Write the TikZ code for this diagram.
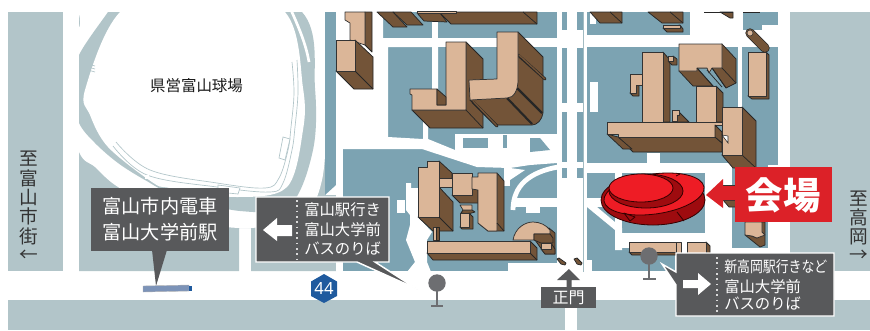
\documentclass[tikz,border=0pt]{standalone}
\usepackage{fontspec}
\usepackage{graphicx}
\setmainfont{Noto Sans}
\newfontfamily\cjk{Noto Sans CJK JP}
\definecolor{lightblk}{HTML}{B2C5C9}
\definecolor{tealblk}{HTML}{7CA3B2}
\definecolor{tanc}{HTML}{DBB698}
\definecolor{brownc}{HTML}{735438}
\definecolor{labelgray}{HTML}{58595B}
\definecolor{pingray}{HTML}{6D6E71}
\definecolor{venue}{HTML}{DC2128}
\definecolor{brightred}{HTML}{EE1C25}
\definecolor{darkred}{HTML}{9E0B0F}
\definecolor{tramblue}{HTML}{7C93B8}
\definecolor{routeblue}{HTML}{1F5A9E}
\tikzset{
  btop/.style={fill=tanc,draw=black!80,line width=0.55pt,line join=round},
  bside/.style={fill=brownc,draw=black!85,line width=0.55pt,line join=round},
  bline/.style={draw=black!85,line width=0.55pt},
  wh/.style={fill=white,draw=none},
  te/.style={fill=tealblk,draw=none},
  li/.style={fill=lightblk,draw=none},
  track/.style={draw=lightblk,line width=0.5pt},
  callout/.style={fill=labelgray,draw=white,line width=1.1pt,line join=miter},
  sep/.style={draw=white!85!black,line width=1.3pt,dash pattern=on 1.3pt off 2.7pt},
  lbl/.style={text=white,font=\cjk\fontsize{11.5}{13}\selectfont,inner sep=0pt,anchor=west},
  vtext/.style={text=black!80,font=\cjk\fontsize{14}{14.5}\selectfont,align=center,inner sep=0pt},
  redrim/.style={draw=black!80!red,line width=0.6pt,line join=round},
}
\newcommand\bldg[2]{\draw[bside] #2 -- cycle; \draw[btop] #1 -- cycle;}
\begin{document}
\begin{tikzpicture}[x=0.75pt,y=-0.75pt]
\useasboundingbox (0,0) rectangle (870,330);
% ---- light blocks
\fill[li] (8,12) rectangle (63,271);
\fill[li] (790,12) rectangle (870,271);
\fill[li] (8,300) rectangle (565,330);
\fill[li] (577,300) rectangle (870,330);
% ---- stadium block
\begin{scope}
\clip (79,12) -- (325,12) -- (325,195) -- (336,195) -- (336,271) -- (251,271) -- (251,228) -- (239,228) -- (239,271) -- (79,271) -- cycle;
\fill[li] (70,0) rectangle (340,280);
\fill[wh] plot[smooth cycle,tension=0.55] coordinates {(100,-5) (79,28) (60,90) (79,152) (95,167) (118,187) (170,215) (240,228) (300,218) (322,180) (327,100) (327,30) (318,-5)};
\fill[li] plot[smooth cycle,tension=0.55] coordinates {(125,-12) (108,12) (79,55) (70,90) (79,123) (95,143) (118,163) (145,180) (175,195) (240,211) (290,205) (313,150) (315,88) (302,12) (200,-40)};
\fill[wh] plot[smooth cycle,tension=0.55] coordinates {(120,12) (85,90) (90,115) (108,147) (152,182) (170,188) (237,197) (287,187) (303,130) (303,88) (285,12) (200,-30)};
\draw[white,line width=2pt] (291,10) .. controls (300,30) and (306,45) .. (309,62);
\end{scope}
\draw[track] plot[smooth,tension=0.6] coordinates {(113,146) (147,175) (217,187) (270,192) (283,183) (292,150) (295,127) (298,93) (297,60)};
\draw[track] plot[smooth,tension=0.6] coordinates {(116,142) (150,170) (217,183) (265,188) (279,178) (288,150) (291,127) (294,93) (292,62)};
\draw[track,fill=white] (218,185) -- (240,188) -- (238,194) -- (218,192) -- cycle;
\draw[track,fill=white] (283,137) -- (290,139) -- (285,160) -- (279,158) -- cycle;
\draw[track] (88,64) -- (95,66) (88,67) -- (95,69) (88,70) -- (95,72);
\fill[wh] (145,175) rectangle (149,179);
% ---- campus teal
\fill[te] (325,12) -- (336,12) -- (336,185) -- (325,195) -- cycle;
\fill[te] (343,12) rectangle (778,165);
\fill[te] (343,165) rectangle (768,271);
% ---- white roads, west
\fill[wh] (336,12) rectangle (343,271);
\fill[wh] (343,12) -- (383,12) -- (383,40) -- (432,40) -- (432,107) -- (438,107) -- (438,47) -- (388,47) -- (388,125) -- (343,125) -- cycle;
\fill[wh] (383,38) -- (557,38) -- (557,47) -- (383,47) -- cycle;
\fill[wh] (432,22) rectangle (438,47);
\fill[wh] (343,125) -- (388,125) -- (388,137) -- (423,139) -- (423,108) -- (428,108) -- (428,139) -- (455,150) -- (455,134) -- (557,134) -- (557,163) -- (530,165) -- (510,168) -- (477,167) -- (422,149) -- (343,149) -- cycle;
\fill[te] (463,138) rectangle (488,148);
\fill[te] (503,135) rectangle (507,148);
\fill[te] (530,138) -- (540,138) -- (550,150) -- (530,152) -- cycle;
% arc road and mid roads
\draw[white,line width=3.6pt] (558,167) .. controls (530,172) and (513,185) .. (513,210);
\fill[wh] (504,166) rectangle (510,186);
\fill[wh] (510,180) -- (525,170) -- (510,168) -- cycle;
\fill[wh] (512,198) rectangle (620,207);
\fill[wh] (526,207) rectangle (540,213);
% west small white patches
\fill[wh] (397,200) -- (405,200) -- (405,213) -- (397,213) -- cycle;
\fill[wh] (406,183) -- (411,183) -- (411,188) -- (418,188) -- (418,217) -- (432,232) -- (427,240) -- (427,262) -- (431,272) -- (407,272) -- (415,262) -- (406,240) -- (410,225) -- (410,215) -- (406,210) -- cycle;
\fill[wh] (508,263) rectangle (557,272);
% ---- central strips
\fill[wh] (557,12) rectangle (562,272);
\fill[wh] (567,12) rectangle (577,272);
\fill[wh] (583,12) rectangle (587,272);
\fill[wh] (557,30) rectangle (587,48);
\fill[wh] (557,103) rectangle (587,112);
\fill[wh] (557,162) rectangle (587,168);
\fill[wh] (562,178) rectangle (583,260);
\fill[wh] (557,260) rectangle (592,272);
\draw[draw=lightblk!70!tealblk,line width=0.5pt] (583,12) -- (583,272);
% ---- east roads
\fill[wh] (587,35) rectangle (778,47);
\fill[wh] (590,12) rectangle (596,24);
\fill[wh] (590,82) rectangle (598,112);
\fill[wh] (690,12) rectangle (743,47);
\fill[wh] (743,30) rectangle (778,47);
\fill[wh] (762,25) rectangle (778,30);
\fill[wh] (738,47) rectangle (742,165);
\fill[wh] (587,163) rectangle (730,173);
\fill[wh] (647,153) -- (660,153) -- (660,165) -- (647,165) -- cycle;
\fill[wh] (615,168) rectangle (622,233);
\fill[wh] (587,207) -- (597,207) -- (622,228) -- (622,250) -- (615,250) -- (615,230) -- cycle;
\fill[wh] (615,233) rectangle (732,248);
\fill[wh] (705,165) rectangle (732,250);
\fill[wh] (675,248) rectangle (768,272);
% ---- buildings NW
\bldg{(345,12) -- (365,12) -- (365,45) -- (350,40) -- (350,23) -- (345,20)}{(365,12) -- (372,12) -- (372,52) -- (365,45)}
\bldg{(336,40) -- (355,40) -- (355,71) -- (336,71)}{(355,40) -- (373,57) -- (373,89) -- (354,89) -- (336,71)}
\draw[bline] (355,71) -- (373,89);
\draw[bside] (377,12) -- (393,27) -- (407,27) -- (393,12) -- cycle;
\draw[bside] (393,12) -- (407,25) -- (423,25) -- (411,12) -- cycle;
\draw[bside] (417,13) -- (424,21) -- (447,22) -- (440,13) -- cycle;
\draw[bside] (440,13) -- (451,24) -- (537,24) -- (537,12) -- (455,12) -- cycle;
\draw[bline] (523,12) -- (537,24);
\draw[btop] (417,11) rectangle (456,13.5);
% ---- L left
\bldg{(446,42) -- (466,42) -- (466,110) -- (412,110) -- (412,95) -- (410,94) -- (410,89) -- (437,89) -- (437,105) -- (446,105)}{(466,42) -- (483,59) -- (483,128) -- (430,128) -- (412,110) -- (466,110)}
\draw[bline] (466,110) -- (483,128);
\draw[bside] (437,89) -- (446,97) -- (446,105) -- (437,105) -- cycle;
% ---- L right
\draw[bside] (518,32) -- (543,57) -- (543,113) .. controls (542,120) and (537,125) .. (532,125) -- (495,125) -- (470,100) -- (497,90) -- cycle;
\draw[black!85,line width=2.2pt,line cap=round] (518,55) -- (545,79);
\draw[brownc,line width=1pt,line cap=round] (519,55) -- (545,79);
\draw[black!85,line width=1.6pt] (517,88) -- (542,113);
\draw[black!85,line width=1.6pt] (507,98) -- (532,124);
\draw[black!85,line width=2.2pt,line cap=round] (473,102) -- (497,126);
\draw[brownc,line width=1pt,line cap=round] (473,101) -- (497,126);
\draw[btop] (497,32) -- (518,32) -- (518,80) .. controls (518,90) and (514,98) .. (507,98) -- (470,100) -- (469,80) -- (497,79) -- cycle;
% ---- SW complex
\draw[bside] (439,161) -- (452,173) -- (452,187) -- (439,178) -- cycle;
\draw[bside] (418,217) -- (433,231) -- (453,231) -- (453,202) -- (439,187) -- (439,217) -- cycle;
\draw[btop] (418,167) -- (427,167) -- (427,161) -- (439,161) -- (439,217) -- (418,217) -- cycle;
\draw[bline] (439,217) -- (453,231);
\draw[btop] (439,178) rectangle (452,187);
\draw[bside] (472,189) -- (483,189) -- (483,197) -- (479,203) -- (460,203) -- (452,195) -- (472,195) -- cycle;
\draw[btop] (452,173) rectangle (472,195);
\draw[bside] (478,190) -- (483,190) -- (483,209) -- (478,210) -- cycle;
\draw[bside] (497,173) -- (504,181) -- (504,231) -- (488,231) -- (478,223) -- (497,220) -- cycle;
\draw[btop] (472,177) -- (478,177) -- (478,173) -- (497,173) -- (497,231) -- (488,231) -- (478,223) -- (478,190) -- (472,189) -- cycle;
\draw[bline] (497,223) -- (504,231);
\bldg{(460,205) -- (472,205) -- (472,210) -- (463,210)}{(463,210) -- (472,210) -- (475,212) -- (468,214) -- (461,213)}
\bldg{(460,213) -- (469,213) -- (469,227) -- (460,227)}{(469,213) -- (473,217) -- (473,229) -- (462,229) -- (460,227)}
\draw[btop] (433,227) rectangle (436,240);
\draw[bside] (436,227) rectangle (439,240);
% dome
\draw[bside] (549,228) -- (555,233) -- (555,254) -- (545,254) -- (535,240) -- cycle;
\draw[btop] (513,240) .. controls (515,228) and (525,222) .. (533,222) .. controls (540,222) and (546,225) .. (550,230) -- (550,234) -- (534,234) -- (534,240) -- cycle;
\draw[bside] (534,234) -- (550,234) -- (553,238) -- (553,243) -- (541,243) -- (534,240) -- cycle;
\bldg{(541,243) -- (551,243) -- (551,249) -- (541,249)}{(551,243) -- (555,249) -- (555,254) -- (545,254) -- (541,249)}
% long low
\bldg{(427,241) -- (530,241) -- (530,253) -- (427,253)}{(427,253) -- (433,260) -- (537,260) -- (537,248) -- (530,241) -- (530,253)}
\draw[bline] (530,253) -- (537,260);
% gate
\draw[bside] (557,259) -- (559,258) -- (566,263) -- (565,265) -- (561,264) -- cycle;
\draw[bside] (574,259) -- (577,258) -- (582,263) -- (581,265) -- (577,264) -- cycle;
% ---- NE top row
\draw[bside] (590,12) -- (600,23) -- (622,23) -- (622,12) -- cycle;
\draw[bline] (610,12) -- (622,23);
\draw[bside] (648,12) -- (662,23) -- (683,23) -- (683,12) -- cycle;
\draw[bline] (670,12) -- (683,23);
\bldg{(663,25) -- (680,25) -- (680,28) -- (663,28)}{(680,25) -- (683,29) -- (683,32) -- (667,32) -- (663,28)}
\draw[bside] (720,12) -- (730,18) -- (733,18) -- (733,12) -- cycle;
\draw[bline] (704,12) -- (733,12) (743,12) -- (760,12);
% cylinder
\draw[black!85,line width=7pt,line cap=round] (750,33) -- (765,48);
\draw[brownc,line width=6pt,line cap=round] (750,33) -- (765,48);
\draw[btop,line width=0.4pt] (750,33) circle[radius=3];
\bldg{(748,52) -- (766,52) -- (766,96) -- (748,96)}{(766,52) -- (769,55) -- (769,99) -- (752,99) -- (748,96)}
% E bar
\bldg{(679,44) -- (722,44) -- (722,68) -- (712,68) -- (709,73) -- (707,68) -- (697,68) -- (697,71) -- (679,71)}{(722,44) -- (736,59) -- (736,83) -- (726,88) -- (712,68) -- (697,68) -- (713,86) -- (693,86) -- (679,71)}
\draw[bline] (722,68) -- (736,83) (712,68) -- (726,88) (707,70) -- (722,87) (697,68) -- (713,86);
% tall
\bldg{(642,52) -- (663,52) -- (663,122) -- (642,122)}{(663,52) -- (670,60) -- (670,122) -- (663,122)}
\bldg{(668,56) -- (673,56) -- (673,61) -- (668,61)}{(673,56) -- (677,59) -- (677,65) -- (672,65) -- (668,61)}
\bldg{(630,74) -- (642,74) -- (642,85) -- (636,85) -- (636,93) -- (630,93)}{(636,85) -- (639,86) -- (639,96) -- (633,96) -- (630,93)}
\bldg{(696,86) -- (716,86) -- (716,122) -- (696,122)}{(716,86) -- (723,93) -- (723,122) -- (716,122)}
\bldg{(672,110) -- (679,110) -- (679,115) -- (677,115) -- (677,121) -- (672,121)}{(679,112) -- (689,122) -- (672,122)}
% long horizontal + tower
\draw[bside] (742,107) -- (756,121) -- (756,168) -- (733,168) -- (722,155) -- cycle;
\draw[bline] (742,155) -- (756,168);
\draw[bside] (618,137) -- (633,152) -- (722,152) -- (722,143) -- (715,137) -- cycle;
\draw[bside] (607,134) -- (623,149) -- (632,149) -- (618,137) -- cycle;
\draw[btop] (607,122) -- (722,122) -- (722,125) -- (715,125) -- (715,137) -- (618,137) -- (618,134) -- (607,134) -- cycle;
\draw[bside] (715,125) -- (722,132) -- (722,143) -- (715,137) -- cycle;
\draw[btop] (722,107) -- (742,107) -- (742,155) -- (722,155) -- cycle;
\draw[fill=white,draw=black!85,line width=0.4pt] (722,135) -- (728,136) -- (728,143) -- cycle;
% behind banner + stub
\bldg{(723,185) -- (745,185) -- (745,200) -- (723,200)}{(723,200) -- (729,207) -- (745,207) -- (745,200)}
\bldg{(745,222) -- (762,222) -- (762,232) -- (765,235) -- (757,238) -- (752,236) -- (745,235)}{(762,222) -- (765,222) -- (765,245) -- (760,247) -- (745,235) -- (752,236) -- (757,238)}
% south small buildings
\bldg{(629,242) -- (676,242) -- (676,252) -- (629,252)}{(629,252) -- (632,255) -- (680,255) -- (676,252)}
\draw[btop] (676,242) rectangle (681,253);
\bldg{(687,242) -- (706,242) -- (706,255) -- (687,255)}{(706,242) -- (710,246) -- (710,255) -- (706,255)}
% ---- venue (red)
\draw[redrim,fill=darkred] (653,200) circle[x radius=52,y radius=25];
\draw[redrim,fill=brightred,rotate around={8:(654,194)}] (654,194) circle[x radius=50.5,y radius=20];
\draw[redrim,fill=darkred] (646,191) circle[x radius=37,y radius=17];
\draw[redrim,fill=brightred] (641,188) circle[x radius=32,y radius=14];
\draw[redrim] (677,212) -- (684,221) (676,176) -- (680,174);
\draw[redrim,fill=darkred] (624,213) -- (635,217) -- (630,221) -- cycle;
% ---- venue banner and arrow
\fill[venue] (706,195) -- (723,179) -- (723,186) -- (735,186) -- (735,200) -- (723,200) -- (723,208) -- cycle;
\fill[venue] (735,167) rectangle (832,222);
\node[text=white,font=\cjk\bfseries\fontsize{28}{30}\selectfont,inner sep=0pt] (venuelabel) at (783,195) {会場};
% ---- stadium name
\node[text=black!90,font=\cjk\fontsize{11.6}{13}\selectfont,inner sep=0pt] (stadium) at (196.5,86) {県営富山球場};
% ---- side destinations
\node[vtext] (westdest) at (29,198) {至\\富\\山\\市\\街};
\node[vtext,font=\cjk\fontsize{14}{14}\selectfont] (westarrow) at (29,256) {←};
\node[vtext] (eastdest) at (859,218) {至\\高\\岡};
\node[vtext,font=\cjk\fontsize{14}{14}\selectfont] (eastarrow) at (859,256) {→};
% ---- tram callout
\fill[labelgray] (91,188) rectangle (229,251);
\fill[labelgray] (152,250) -- (167,250) -- (156,286) -- cycle;
\node[text=white,font=\cjk\fontsize{14.4}{18}\selectfont,align=center,inner sep=0pt] (tramlabel) at (160,219.5) {富山市内電車\\[1.5pt]富山大学前駅};
\draw[fill=tramblue,draw=black!30,line width=0.3pt] (143,286) -- (189,285) -- (189,291) -- (143,292) -- cycle;
\fill[routeblue] (189,286) rectangle (192,291);
% ---- pins
\fill[pingray] (437,283) circle[radius=8.7];
\draw[pingray,line width=1.4pt] (437,291) -- (437,306);
\draw[pingray,line width=1.6pt] (431,306) -- (443,306);
\fill[pingray] (649,256) circle[radius=8.7];
\draw[pingray,line width=1.4pt] (649,264) -- (649,279);
\draw[pingray,line width=1.6pt] (643,279) -- (656,279);
% ---- bus callout west
\draw[callout] (256,197) -- (389,197) -- (389,262) -- (375,262) -- (417,289) -- (357,262) -- (256,262) -- cycle;
\fill[white] (263,230) -- (277,218) -- (277,225) -- (292,225) -- (292,236) -- (277,236) -- (277,241) -- cycle;
\draw[sep] (297,200) -- (297,260);
\node[lbl] (wr1) at (304,210) {富山駅行き};
\node[lbl] (wr2) at (304,230) {富山大学前};
\node[lbl] (wr3) at (304,249) {バスのりば};
% ---- bus callout east
\draw[callout] (676,253) -- (834,253) -- (834,316) -- (676,316) -- (676,285) -- (662,264) -- (676,272) -- cycle;
\fill[white] (711,284) -- (698,273) -- (698,280) -- (683,280) -- (683,288) -- (698,288) -- (698,295) -- cycle;
\draw[sep] (717,257) -- (717,312);
\node[lbl] (er1) at (724,267) {\scalebox{0.84}[1]{新高岡駅行きなど}};
\node[lbl] (er2) at (724,287) {富山大学前};
\node[lbl] (er3) at (724,304) {バスのりば};
% ---- route 44
\fill[routeblue] (324,274) -- (337,281.5) -- (337,296) -- (324,303) -- (311,296) -- (311,281.5) -- cycle;
\node[text=white,font=\fontsize{12.5}{14}\selectfont,inner sep=0pt] (route) at (324,289) {44};
% ---- main gate
\fill[labelgray] (569,269) -- (580,280) -- (571.5,280) -- (571.5,287) -- (566.5,287) -- (566.5,280) -- (557,280) -- cycle;
\fill[labelgray] (541,287) rectangle (596,308);
\node[text=white,font=\cjk\fontsize{12}{14}\selectfont,inner sep=0pt] (gate) at (568.5,298) {正門};
\end{tikzpicture}
\end{document}
